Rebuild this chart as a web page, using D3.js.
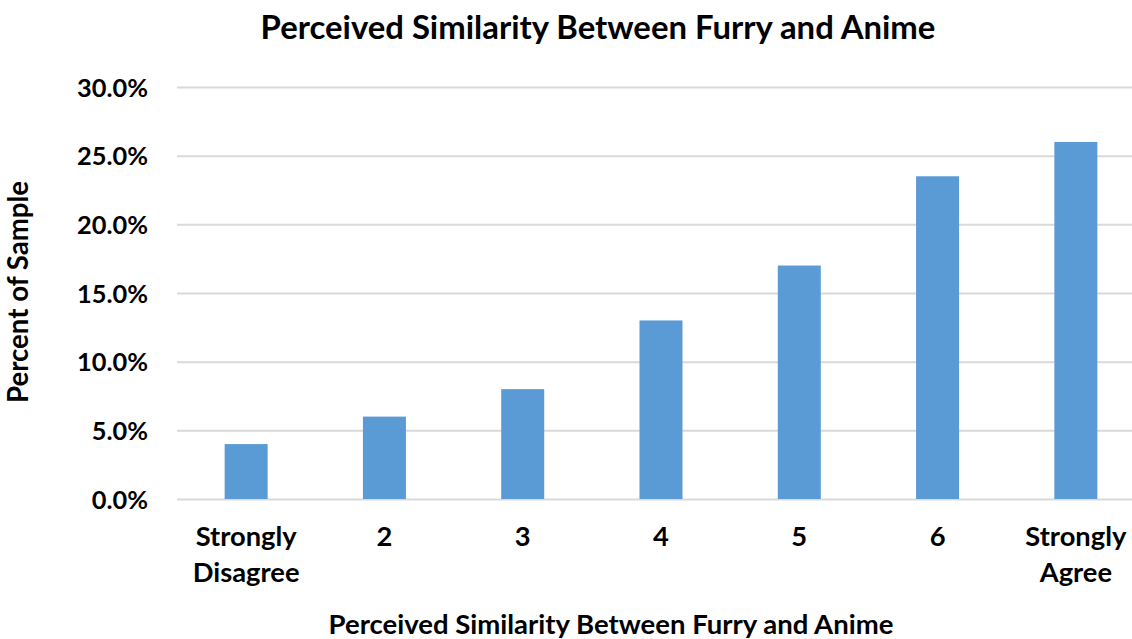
<!DOCTYPE html>
<html>
<head>
<meta charset="utf-8">
<script src="https://cdn.jsdelivr.net/npm/d3@7"></script>
<style>
  html, body { margin: 0; padding: 0; background: #fff; }
  svg { display: block; }
  text { font-family: Lato, "Open Sans", sans-serif; font-weight: 700; fill: #000; }
</style>
</head>
<body>
<svg id="chart" width="1132" height="639"></svg>
<script>
const categories = ["Strongly Disagree", "2", "3", "4", "5", "6", "Strongly Agree"];
const values = [4.0, 6.0, 8.0, 13.0, 17.0, 23.5, 26.0];
const yTicks = [0, 5, 10, 15, 20, 25, 30];
const chartTitle = "Perceived Similarity Between Furry and Anime";
const xTitle = "Perceived Similarity Between Furry and Anime";
const yTitle = "Percent of Sample";

const svg = d3.select("#chart");
const plot = { left: 177, right: 1145, top: 87, bottom: 499 };

const x = d3.scaleBand().domain(categories).range([plot.left, plot.right]).paddingInner(0.689).paddingOuter(0.3445);
const y = d3.scaleLinear().domain([0, 30]).range([plot.bottom, plot.top]);

function fitSize(sel, target) {
  const w = sel.node().getComputedTextLength();
  const fs = parseFloat(sel.style("font-size"));
  return fs * target / w;
}

// gridlines + tick labels
const yAxis = d3.axisLeft(y).tickValues(yTicks).tickSize(-(plot.right - plot.left)).tickFormat(d => d3.format(".1f")(d) + "%");
const gy = svg.append("g").attr("transform", `translate(${plot.left},0)`).call(yAxis);
gy.select(".domain").remove();
gy.selectAll(".tick line").attr("stroke", "#D9D9D9").attr("stroke-width", 2);
const tickTexts = gy.selectAll(".tick text").attr("x", -29).attr("dy", "0.36em").style("font-size", "22px").attr("fill", "#000");
const topTick = tickTexts.filter(d => d === 30);
const tfs = fitSize(topTick, 71);
tickTexts.style("font-size", tfs.toFixed(2) + "px");

// bars
svg.append("g").selectAll("rect").data(values).join("rect")
  .attr("x", (d, i) => x(categories[i]))
  .attr("width", x.bandwidth())
  .attr("y", d => y(d))
  .attr("height", d => y(0) - y(d))
  .attr("fill", "#5B9BD5");

// x labels
const xl = svg.append("g").selectAll("text").data(categories).join("text")
  .attr("x", d => x(d) + x.bandwidth() / 2)
  .attr("y", 546)
  .attr("text-anchor", "middle")
  .style("font-size", "22px");
xl.each(function(d) {
  const words = d.split(" ");
  const t = d3.select(this);
  words.forEach((w, i) => t.append("tspan").attr("x", x(d) + x.bandwidth() / 2).attr("dy", i === 0 ? 0 : 36).text(w));
});
const probe = svg.append("text").style("font-size", "22px").text("Strongly");
const cfs = fitSize(probe, 101);
probe.remove();
xl.style("font-size", cfs.toFixed(2) + "px");

function fit(sel, target) {
  sel.style("font-size", fitSize(sel, target).toFixed(2) + "px");
}

const t = svg.append("text").attr("x", 598).attr("y", 39).attr("text-anchor", "middle").style("font-size", "28px").text(chartTitle);
fit(t, 675);
const xt = svg.append("text").attr("x", 611).attr("y", 634).attr("text-anchor", "middle").style("font-size", "22px").text(xTitle);
fit(xt, 565);
const yt = svg.append("text").attr("transform", "translate(28,292) rotate(-90)").attr("text-anchor", "middle").style("font-size", "22px").text(yTitle);
fit(yt, 222);
</script>
</body>
</html>
